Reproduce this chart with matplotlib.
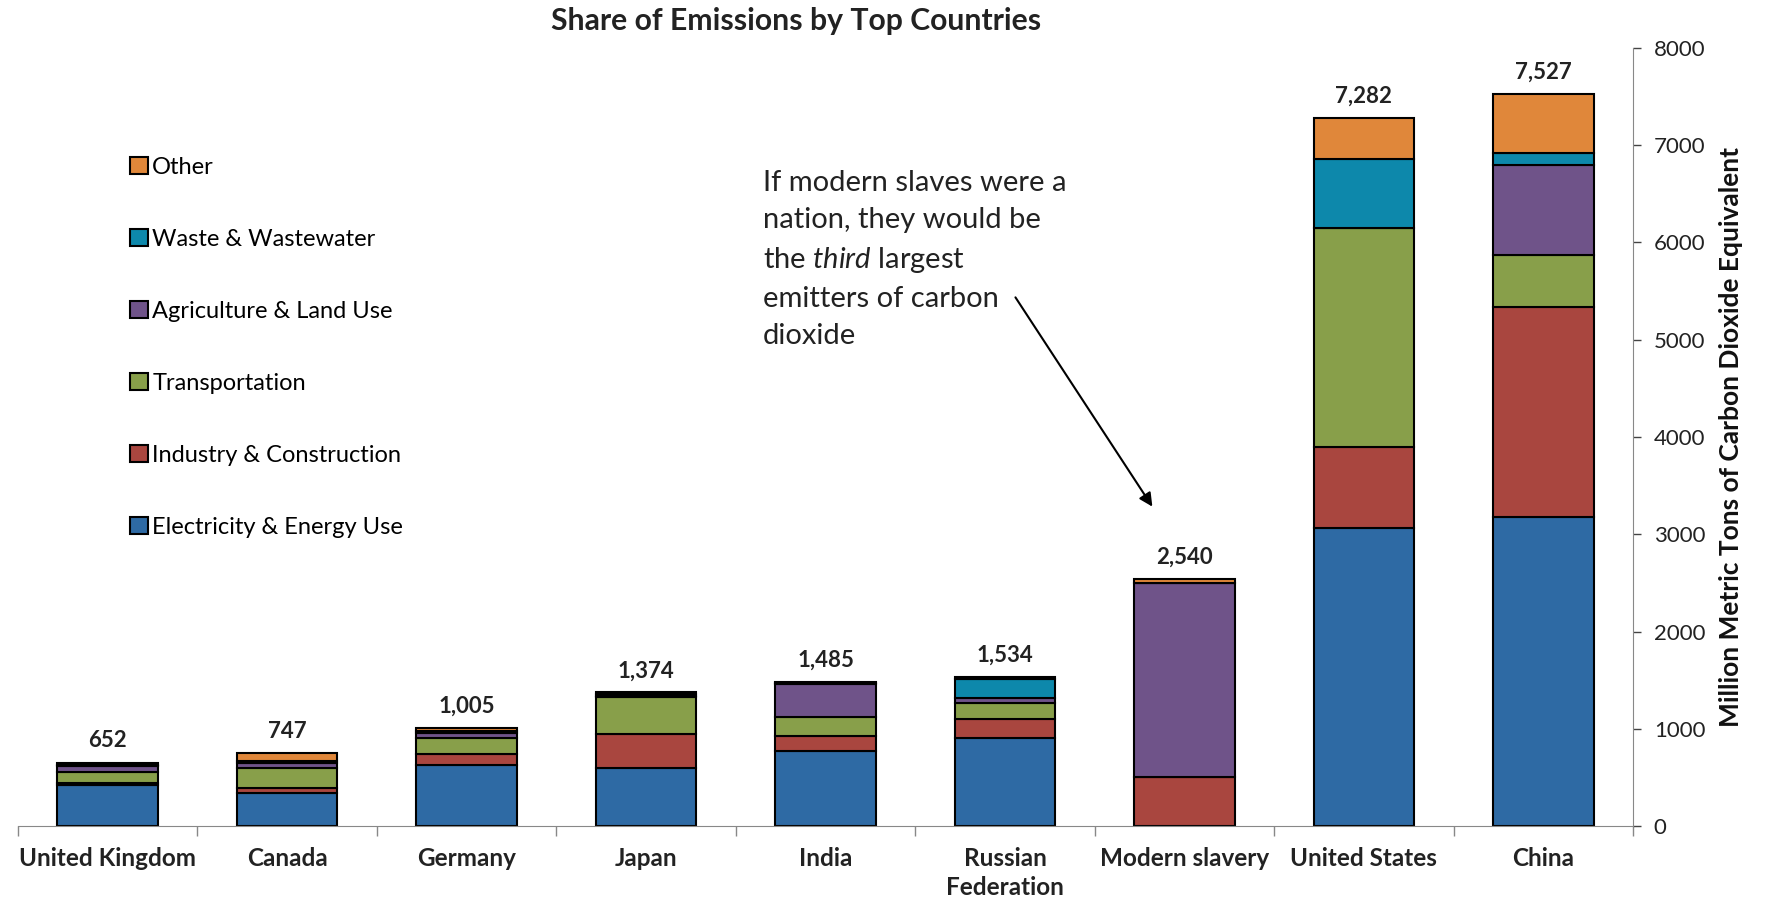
import matplotlib.pyplot as plt
from matplotlib.patches import Patch
import numpy as np

plt.rcParams['font.family'] = ['Lato', 'DejaVu Sans']
plt.rcParams['mathtext.fontset'] = 'custom'
plt.rcParams['mathtext.it'] = 'Lato:italic'
plt.rcParams['mathtext.rm'] = 'Lato'

countries = ["United Kingdom", "Canada", "Germany", "Japan", "India",
             "Russian\nFederation", "Modern slavery", "United States", "China"]
totals = [652, 747, 1005, 1374, 1485, 1534, 2540, 7282, 7527]

sectors = ["Electricity & Energy Use", "Industry & Construction", "Transportation",
           "Agriculture & Land Use", "Waste & Wastewater", "Other"]
electricity = [420, 340, 630, 598, 772, 903, 0, 3064, 3177]
industry = [20, 50, 107, 352, 154, 194, 504, 833, 2160]
transport = [120, 210, 168, 373, 196, 164, 0, 2252, 534]
agriculture = [55, 50, 50, 17, 336, 58, 1995, 0, 926]
waste = [15, 20, 25, 17, 12, 191, 0, 710, 123]
other = [22, 77, 25, 17, 15, 24, 41, 423, 607]

colors = ["#2E6AA4", "#A9463F", "#889F4A", "#6F5389", "#0D88AB", "#E0873A"]

series = [electricity, industry, transport, agriculture, waste, other]

fig = plt.figure(figsize=(17.66, 9.05), dpi=100)
ax = fig.add_axes([18/1766, 1-826/905, (1633-18)/1766, (826-48)/905])

x = np.arange(len(countries))
bottom = np.zeros(len(countries))
for vals, col in zip(series, colors):
    ax.bar(x, vals, 0.56, bottom=bottom, color=col, edgecolor="black", linewidth=1.5)
    bottom += np.array(vals)

# totals above bars
for xi, t in zip(x, totals):
    ax.annotate(f"{t:,}", (xi, t), xytext=(0, 8), textcoords="offset points",
                ha="center", va="bottom", fontsize=16, fontweight="bold", color="#222222")

ax.set_xlim(-0.5, len(countries)-0.5)
ax.set_ylim(0, 8000)
ax.yaxis.tick_right()
ax.yaxis.set_label_position("right")
ax.set_yticks(np.arange(0, 8001, 1000))
ax.tick_params(axis="y", labelsize=16, colors="#444444", labelcolor="#222222",
               length=6, width=1, pad=9)
ax.set_ylabel("Million Metric Tons of Carbon Dioxide Equivalent", fontsize=19,
              fontweight="bold", labelpad=10, color="#111111")

ax.set_xticks(x)
ax.set_xticklabels(countries, fontsize=17.5, fontweight="bold", color="#222222",
                   linespacing=1.35)
ax.set_xticks(np.arange(-0.5, len(countries)), minor=True)
ax.tick_params(axis="x", which="major", length=0, pad=15)
ax.tick_params(axis="x", which="minor", length=7, width=1, color="#888888")

for s in ["top", "left"]:
    ax.spines[s].set_visible(False)
ax.spines["bottom"].set_color("#888888")
ax.spines["right"].set_color("#888888")

fig.text(796/1766, 1-21/905, "Share of Emissions by Top Countries", ha="center",
         va="center", fontsize=21.7, fontweight="bold", color="#222222")

# legend
handles = [Patch(facecolor=c, edgecolor="black", linewidth=1.5, label=l)
           for c, l in zip(colors, sectors)][::-1]
fig.legend(handles=handles, loc="upper left", bbox_to_anchor=(118/1766, 1-145/905),
           frameon=False, fontsize=17, handlelength=0.75, handleheight=0.75,
           handletextpad=0.2, labelspacing=2.16, borderpad=0)

# annotation
ax.text(3.65, 6745, "If modern slaves were a\nnation, they would be\n"
        r"the $\mathit{third}$ largest" "\nemitters of carbon\ndioxide",
        ha="left", va="top", fontsize=21, linespacing=1.52, color="#222222")
ax.annotate("", xy=(5.83, 3260), xytext=(5.05, 5460),
            arrowprops=dict(arrowstyle="-|>", color="black", lw=1.5, mutation_scale=20))

fig.savefig("out.png", dpi=100)
